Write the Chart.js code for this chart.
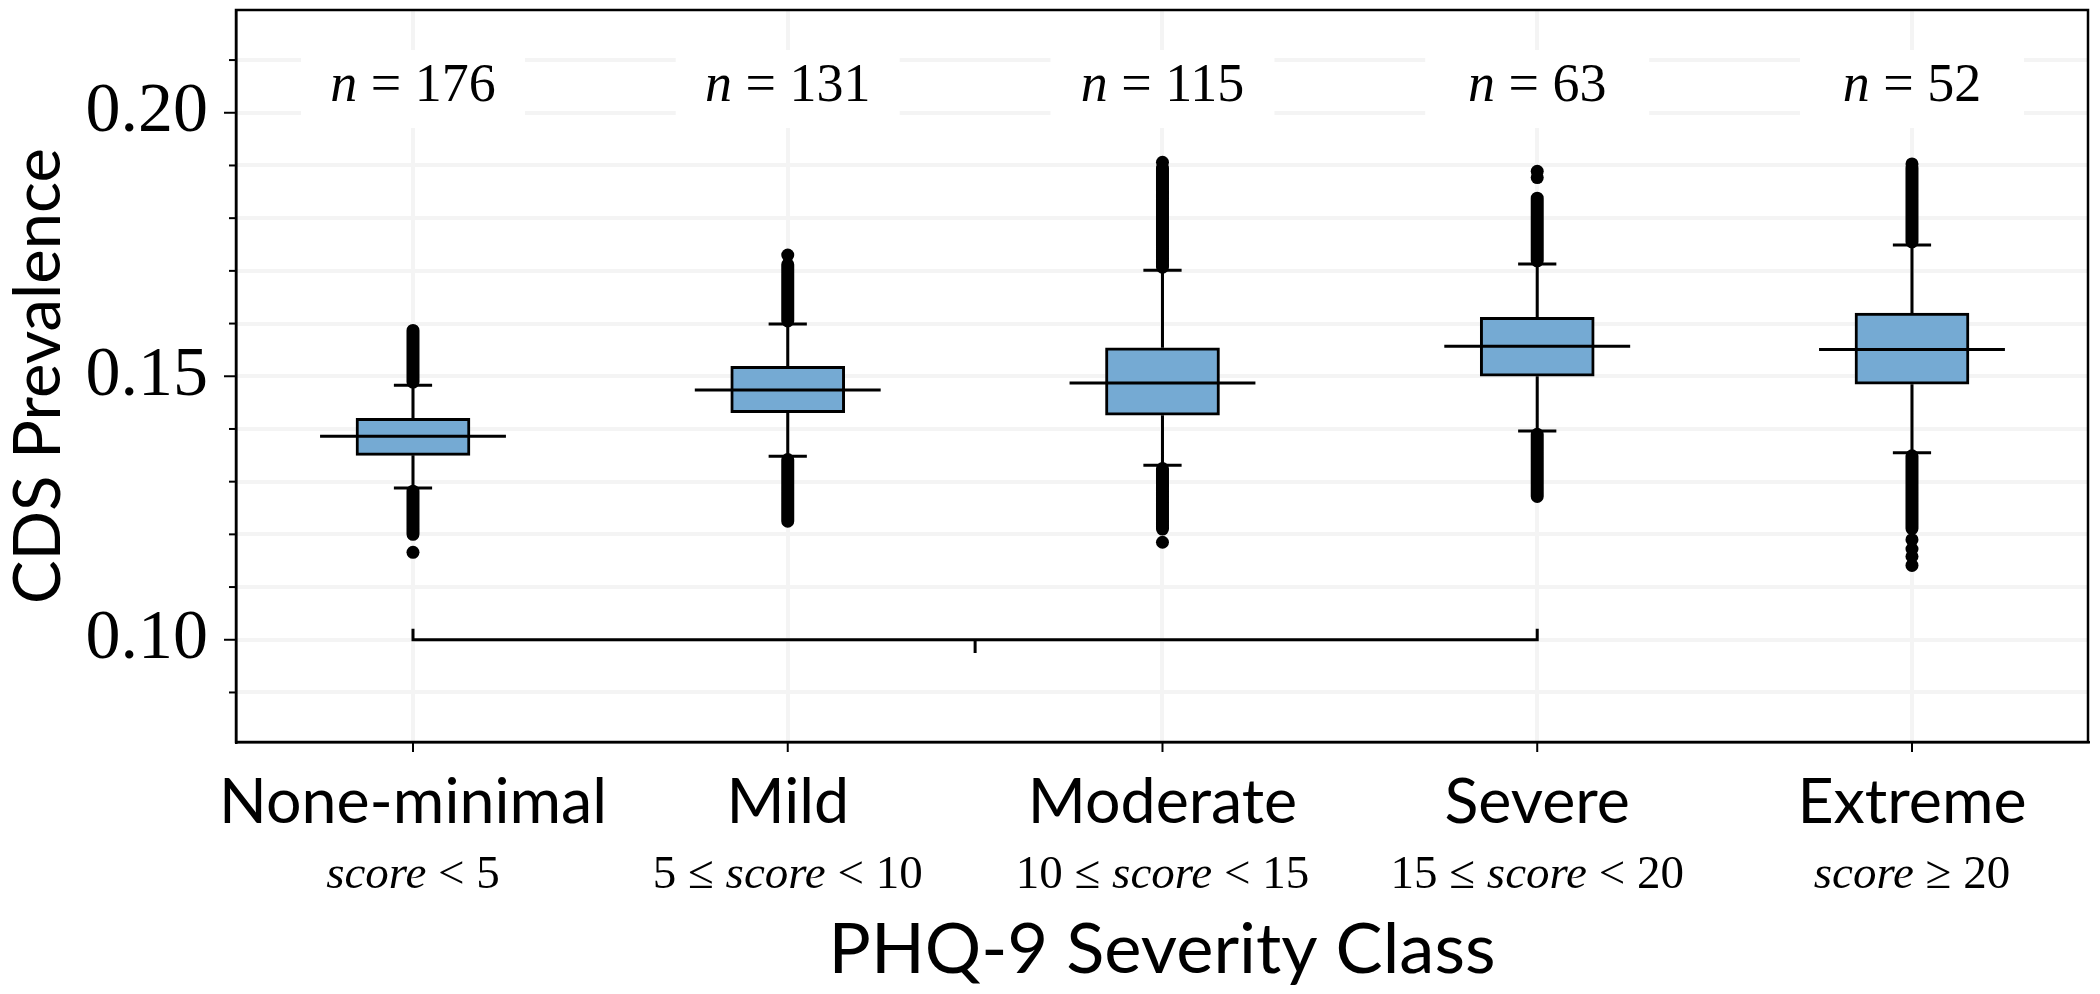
<!DOCTYPE html>
<html>
<head>
<meta charset="utf-8">
<script src="https://cdn.jsdelivr.net/npm/chart.js@4.4.0/dist/chart.umd.min.js"></script>
<style>
html,body{margin:0;padding:0;background:#fff;}
#wrap{width:2100px;height:994px;}
</style>
</head>
<body>
<div id="wrap"><canvas id="boxChart" width="2100" height="994"></canvas></div>
<script>
// datos
var clases = ['None-minimal', 'Mild', 'Moderate', 'Severe', 'Extreme'];
var rangos = ['score < 5', '5 ≤ score < 10', '10 ≤ score < 15', '15 ≤ score < 20', 'score ≥ 20'];
var totales = [176, 131, 115, 63, 52];

var q1      = [0.1350, 0.1431, 0.1426, 0.1500, 0.1485];
var mediana = [0.1386, 0.1474, 0.1487, 0.1557, 0.1551];
var q3      = [0.1420, 0.1519, 0.1554, 0.1612, 0.1620];
var bigoteBajo = [0.1288, 0.1348, 0.1331, 0.1396, 0.1355];
var bigoteAlto = [0.1483, 0.1599, 0.1701, 0.1713, 0.1749];

// columnas densas de atipicos (desde el bigote hasta este valor)
var atipicoAltoHasta = [0.1587, 0.1712, 0.1895, 0.1838, 0.1895];
var atipicoBajoHasta = [0.1200, 0.1225, 0.1210, 0.1272, 0.1211];

// atipicos sueltos [clase, valor]
var atipicosSueltos = [
  [1, 0.1166],
  [2, 0.1730],
  [3, 0.1185], [3, 0.1906],
  [4, 0.1889], [4, 0.1877],
  [5, 0.1903], [5, 0.1190], [5, 0.1172], [5, 0.1158], [5, 0.1141]
];

// corchete de comparacion
var corcheteDesde = 1, corcheteHasta = 4, corcheteNivel = 0.10;

var SANS = 'Lato, "Open Sans", sans-serif';
var SERIF = '"Liberation Serif", "DejaVu Serif", serif';

function fuenteAjustada(texto, familia, ancho) {
  var c = document.createElement('canvas').getContext('2d');
  c.font = '100px ' + familia;
  return 100 * ancho / c.measureText(texto).width;
}

var tamEtiquetaX = fuenteAjustada('None-minimal', SANS, 388);
var tamTituloX = fuenteAjustada('PHQ-9 Severity Class', SANS, 667);
var tamTituloY = fuenteAjustada('CDS Prevalence', SANS, 456);

var MEDIA_MEDIANA = 0.248, MEDIA_TAPA = 0.051;
var GRUESO = 3;

// armar segmentos
var cajas = clases.map(function (c, i) { return { x: i + 1, y: [q1[i], q3[i]] }; });
var lineasMediana = [], bigotes = [], tapas = [], columnas = [];
clases.forEach(function (c, i) {
  var x = i + 1;
  lineasMediana.push({ x: x - MEDIA_MEDIANA, y: mediana[i] }, { x: x + MEDIA_MEDIANA, y: mediana[i] }, { x: x, y: null });
  bigotes.push({ x: x, y: q3[i] }, { x: x, y: bigoteAlto[i] }, { x: x, y: null });
  bigotes.push({ x: x, y: q1[i] }, { x: x, y: bigoteBajo[i] }, { x: x, y: null });
  tapas.push({ x: x - MEDIA_TAPA, y: bigoteAlto[i] }, { x: x + MEDIA_TAPA, y: bigoteAlto[i] }, { x: x, y: null });
  tapas.push({ x: x - MEDIA_TAPA, y: bigoteBajo[i] }, { x: x + MEDIA_TAPA, y: bigoteBajo[i] }, { x: x, y: null });
  columnas.push({ x: x, y: bigoteAlto[i] + 0.0006 }, { x: x, y: atipicoAltoHasta[i] }, { x: x, y: null });
  columnas.push({ x: x, y: bigoteBajo[i] - 0.0006 }, { x: x, y: atipicoBajoHasta[i] }, { x: x, y: null });
});
var sueltos = atipicosSueltos.map(function (p) { return { x: p[0], y: p[1] }; });
var medio = (corcheteDesde + corcheteHasta) / 2;
var corchete = [
  { x: corcheteDesde, y: corcheteNivel + 0.0021 }, { x: corcheteDesde, y: corcheteNivel },
  { x: corcheteHasta, y: corcheteNivel }, { x: corcheteHasta, y: corcheteNivel + 0.0021 },
  { x: medio, y: null },
  { x: medio, y: corcheteNivel }, { x: medio, y: corcheteNivel - 0.0025 }
];

function lineaNegra(datos, ancho, orden) {
  return {
    type: 'line', data: datos, borderColor: '#000', borderWidth: ancho,
    pointRadius: 0, spanGaps: false, fill: false, order: orden,
    borderCapStyle: 'butt'
  };
}

var decoracion = {
  id: 'decoracion',
  beforeDatasetsDraw: function (chart) {
    var ctx = chart.ctx, sx = chart.scales.x;
    ctx.save();
    clases.forEach(function (c, i) {
      var px = sx.getPixelForValue(i + 1);
      ctx.fillStyle = '#fff';
      ctx.fillRect(px - 112, 50, 224, 78);
      // n = ...
      ctx.fillStyle = '#000';
      ctx.textBaseline = 'alphabetic';
      var fi = 'italic 54px ' + SERIF, fn = '54px ' + SERIF;
      ctx.font = fi; var w1 = ctx.measureText('n').width;
      ctx.font = fn; var resto = ' = ' + totales[i]; var w2 = ctx.measureText(resto).width;
      var x0 = px - (w1 + w2) / 2;
      ctx.font = fi; ctx.textAlign = 'left'; ctx.fillText('n', x0, 101);
      ctx.font = fn; ctx.fillText(resto, x0 + w1, 101);
    });
    ctx.restore();
  },
  afterDraw: function (chart) {
    var ctx = chart.ctx, a = chart.chartArea, sx = chart.scales.x, sy = chart.scales.y;
    ctx.save();
    ctx.strokeStyle = '#000';
    ctx.lineWidth = 2.5;
    ctx.strokeRect(a.left, a.top, a.right - a.left, a.bottom - a.top);
    // marcas del eje y
    ctx.lineWidth = 2;
    for (var k = 9; k <= 21; k++) {
      var py = sy.getPixelForValue(k / 100);
      var mayor = (k % 5 === 0);
      ctx.beginPath();
      ctx.moveTo(a.left, py);
      ctx.lineTo(a.left - (mayor ? 12 : 7), py);
      ctx.stroke();
    }
    // marcas del eje x
    clases.forEach(function (c, i) {
      var px = sx.getPixelForValue(i + 1);
      ctx.beginPath(); ctx.moveTo(px, a.bottom); ctx.lineTo(px, a.bottom + 10); ctx.stroke();
    });
    // rangos de puntaje
    ctx.fillStyle = '#000';
    ctx.textBaseline = 'alphabetic';
    var tamRango = 47;
    rangos.forEach(function (r, i) {
      var px = sx.getPixelForValue(i + 1);
      var partes = r.split('score');
      var trozos = [[partes[0], false], ['score', true], [partes[1], false]];
      var tot = 0;
      trozos.forEach(function (t) {
        ctx.font = (t[1] ? 'italic ' : '') + tamRango + 'px ' + SERIF;
        t.push(ctx.measureText(t[0]).width); tot += t[2];
      });
      var x = px - tot / 2;
      ctx.textAlign = 'left';
      trozos.forEach(function (t) {
        ctx.font = (t[1] ? 'italic ' : '') + tamRango + 'px ' + SERIF;
        ctx.fillText(t[0], x, 888); x += t[2];
      });
    });
    // titulo eje x
    ctx.font = tamTituloX + 'px ' + SANS;
    ctx.textAlign = 'center';
    ctx.fillText('PHQ-9 Severity Class', (a.left + a.right) / 2, 973);
    ctx.restore();
  }
};

var ctx = document.getElementById('boxChart').getContext('2d');
var grafico = new Chart(ctx, {
  type: 'bar',
  data: {
    datasets: [
      {
        type: 'bar', data: cajas, backgroundColor: '#75aad3', borderColor: '#000',
        borderWidth: GRUESO, borderSkipped: false, barThickness: 114, order: 4
      },
      lineaNegra(bigotes, GRUESO, 5),
      lineaNegra(tapas, GRUESO, 3),
      Object.assign(lineaNegra(columnas, 13, 2), { borderCapStyle: 'round' }),
      {
        type: 'scatter', data: sueltos, backgroundColor: '#000', borderColor: '#000',
        pointRadius: 6.5, pointBorderWidth: 0, order: 2
      },
      lineaNegra(lineasMediana, GRUESO, 1),
      lineaNegra(corchete, GRUESO, 1)
    ]
  },
  options: {
    responsive: false,
    animation: false,
    devicePixelRatio: 1,
    layout: { padding: { top: 10, right: 12, left: 0, bottom: 0 } },
    plugins: { legend: { display: false }, tooltip: { enabled: false } },
    scales: {
      x: {
        type: 'linear', min: 0.5277, max: 5.4697, offset: false,
        afterBuildTicks: function (s) { s.ticks = clases.map(function (c, i) { return { value: i + 1 }; }); },
        afterFit: function (s) { s.height = 252; s.paddingLeft = 0; s.paddingRight = 0; },
        ticks: {
          color: '#000', padding: 11, maxRotation: 0, autoSkip: false,
          font: { family: SANS, size: tamEtiquetaX },
          callback: function (v) { return clases[Math.round(v) - 1] || ''; }
        },
        grid: { offset: false, color: '#f4f4f4', lineWidth: 4, drawTicks: true, tickLength: 12, tickColor: 'rgba(0,0,0,0)' },
        border: { display: true, color: '#000', width: 2.5 }
      },
      y: {
        type: 'linear', min: 0.0806, max: 0.2195,
        ticks: {
          stepSize: 0.01, includeBounds: false, autoSkip: false, color: '#000', padding: 16,
          font: { family: SERIF, size: 70 },
          callback: function (v) {
            var r = Math.round(v * 100);
            return (r % 5 === 0) ? (r / 100).toFixed(2) : '';
          }
        },
        afterFit: function (s) { s.width = 236; s.paddingTop = 0; s.paddingBottom = 0; },
        title: { display: true, text: 'CDS Prevalence', color: '#000', font: { family: SANS, size: tamTituloY }, padding: { top: 0, bottom: 0 } },
        grid: { color: '#f4f4f4', lineWidth: 4, drawTicks: true, tickLength: 12, tickColor: 'rgba(0,0,0,0)' },
        border: { display: true, color: '#000', width: 2.5 }
      }
    }
  },
  plugins: [decoracion]
});
</script>
</body>
</html>
